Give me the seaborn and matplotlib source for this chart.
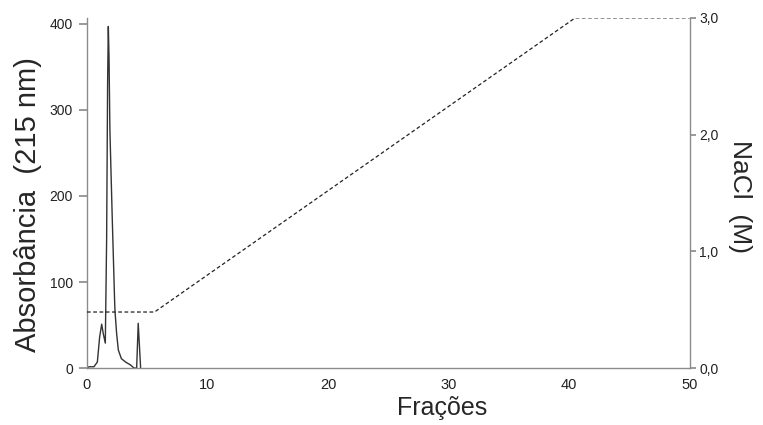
import matplotlib
matplotlib.use("Agg")
import matplotlib.pyplot as plt
import pandas as pd
import seaborn as sns

# Absorbance profile
fracoes = [0.0, 0.17, 0.58, 0.86, 1.05, 1.22, 1.35, 1.52, 1.63, 1.71, 1.77, 1.83,
           1.9, 2.1, 2.29, 2.32, 2.46, 2.6, 2.85, 3.2, 3.62, 3.9, 4.12, 4.25, 4.45]
absorbancia = [0, 1.5, 1.5, 7, 36, 51, 40, 29, 150, 330, 397, 360,
               277, 172, 79, 67, 40, 21, 11, 7, 3.5, 0, 0, 52, 0]

# NaCl gradient
nacl_x = [0, 5.6, 40.5, 50]
nacl_m = [0.48, 0.48, 3.0, 3.0]

sns.set_theme(style="white")
plt.rcParams['font.family'] = ['Liberation Sans', 'DejaVu Sans']

df_abs = pd.DataFrame({"fracao": fracoes, "abs": absorbancia})
df_nacl = pd.DataFrame({"fracao": nacl_x, "nacl": nacl_m})

fig = plt.figure(figsize=(7.63, 4.25), dpi=100)
ax = fig.add_axes([0.114, 0.134, 0.79, 0.824])
ax2 = ax.twinx()

sns.lineplot(data=df_abs, x="fracao", y="abs", ax=ax, color="#333333",
             linewidth=1.0, estimator=None, sort=False)
sns.lineplot(data=df_nacl, x="fracao", y="nacl", ax=ax2, color="#222222",
             linewidth=0.9, estimator=None, sort=False, linestyle=(0, (3, 2)))

ax.set_xlim(0, 50)
ax.set_ylim(0, 407)
ax2.set_ylim(0, 3.0)
ax.set_xticks([0, 10, 20, 30, 40, 50])
ax.set_yticks([0, 100, 200, 300, 400])
ax2.set_yticks([0, 1, 2, 3])
ax2.set_yticklabels(["0,0", "1,0", "2,0", "3,0"])

spine_col = "#8c8c8c"
for a in (ax, ax2):
    a.spines['top'].set_visible(False)
    for s in a.spines.values():
        s.set_color(spine_col)
        s.set_linewidth(1.0)
ax.spines['right'].set_visible(False)
ax2.spines['left'].set_visible(False)
ax2.spines['bottom'].set_visible(False)

ax.tick_params(axis='y', left=True, length=6, color=spine_col, labelsize=10,
               pad=4, labelcolor="#222222")
ax.tick_params(axis='x', bottom=False, labelsize=10.5, pad=1, labelcolor="#222222")
ax2.tick_params(axis='y', right=True, length=4, color=spine_col, labelsize=10,
                pad=3, labelcolor="#222222")

ax.set_xlabel("Frações", fontsize=18)
ax.set_ylabel("Absorbância  (215 nm)", fontsize=21)
ax2.set_ylabel("NaCl  (M)", fontsize=19, rotation=270)
ax.xaxis.set_label_coords(0.59, -0.115)
ax.yaxis.set_label_coords(-0.098, 0.466)
ax2.yaxis.set_label_coords(1.083, 0.49)
ax2.yaxis.label.set_va('center')
ax.yaxis.label.set_va('center')
ax.xaxis.label.set_va('center')

fig.savefig("out.png", dpi=100)
